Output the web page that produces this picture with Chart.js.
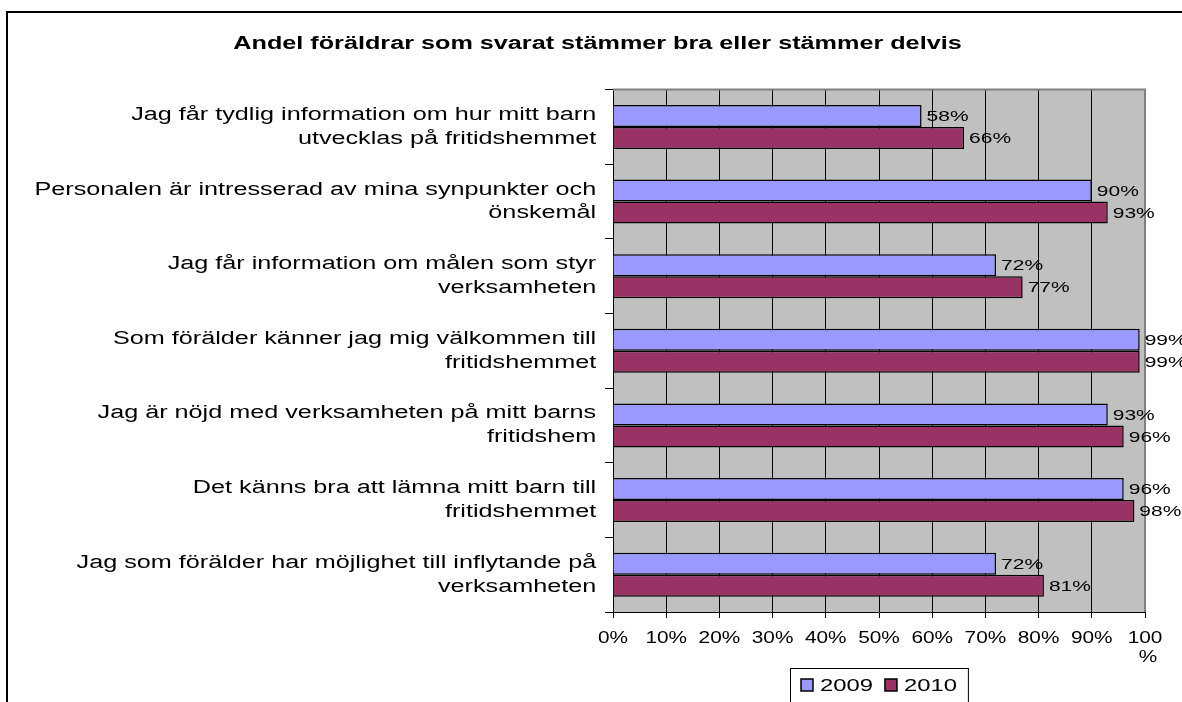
<!DOCTYPE html>
<html>
<head>
<meta charset="utf-8">
<script src="https://cdn.jsdelivr.net/npm/chart.js@4.4.0/dist/chart.umd.min.js"></script>
<style>
 html, body { margin: 0; padding: 0; background: #fff; }
 #wrap { width: 1182px; height: 702px; position: relative; }
</style>
</head>
<body>
<div id="wrap"><canvas id="myChart" width="1182" height="702"></canvas></div>
<script>
// categories (two lines each, like the original)
var categories = [
 ['Jag får tydlig information om hur mitt barn', 'utvecklas på fritidshemmet'],
 ['Personalen är intresserad av mina synpunkter och', 'önskemål'],
 ['Jag får information om målen som styr', 'verksamheten'],
 ['Som förälder känner jag mig välkommen till', 'fritidshemmet'],
 ['Jag är nöjd med verksamheten på mitt barns', 'fritidshem'],
 ['Det känns bra att lämna mitt barn till', 'fritidshemmet'],
 ['Jag som förälder har möjlighet till inflytande på', 'verksamheten']
];
var values2009 = [58, 90, 72, 99, 93, 96, 72];
var values2010 = [66, 93, 77, 99, 96, 98, 81];
var seriesNames = ['2009', '2010'];
var xTicks = [0, 10, 20, 30, 40, 50, 60, 70, 80, 90, 100];

var FONT = 'Arial, "Liberation Sans", sans-serif';
var WIDE = 1.4; // the original picture has horizontally stretched text

// run a draw method with the text stretched sideways around an anchor x
function stretch(obj, method, anchor) {
 if (obj.hasOwnProperty('_wide_' + method)) return;
 var orig = obj[method];
 obj[method] = function () {
   var c = this.ctx, ax = anchor(this);
   c.save();
   c.translate(ax, 0);
   c.scale(WIDE, 1);
   c.translate(-ax, 0);
   var r = orig.apply(this, arguments);
   c.restore();
   return r;
 };
 obj['_wide_' + method] = true;
}

// same, but every label stretched around its own position (x axis)
function stretchEach(obj, method, k) {
 if (obj.hasOwnProperty('_each_' + method)) return;
 var orig = obj[method];
 obj[method] = function () {
   var c = this.ctx, fill = c.fillText;
   c.fillText = function (t, x, y) {
     c.save();
     c.translate(x, y);
     c.scale(k, 1);
     fill.call(c, t, 0, 0);
     c.restore();
   };
   var r = orig.apply(this, arguments);
   c.fillText = fill;
   return r;
 };
 obj['_each_' + method] = true;
}

function wideText(c, str, x, y) {
 c.save();
 c.translate(x, y);
 c.scale(WIDE, 1);
 c.fillText(str, 0, 0);
 c.restore();
}

// gray plot area, chart border, value labels and legend box
var frame = {
 id: 'frame',
 beforeDraw: function (chart) {
   var c = chart.ctx, a = chart.chartArea;
   stretch(chart.scales.y, 'drawLabels', function (s) { return s.right; });
   stretch(chart.titleBlock, 'draw', function (t) { return (t.left + t.right) / 2; });
   stretchEach(chart.scales.x, 'drawLabels', 1.3);
   c.save();
   c.fillStyle = '#c0c0c0';
   c.fillRect(a.left, a.top, a.right - a.left, a.bottom - a.top);
   c.strokeStyle = '#000';
   c.lineWidth = 2;
   c.beginPath();
   c.moveTo(7, chart.height);
   c.lineTo(7, 12);
   c.lineTo(chart.width, 12);
   c.stroke();
   c.restore();
 },
 afterDatasetsDraw: function (chart) {
   var c = chart.ctx, a = chart.chartArea;
   c.save();
   c.strokeStyle = '#808080';
   c.lineWidth = 2;
   c.beginPath();
   c.moveTo(a.left, a.top);
   c.lineTo(a.right, a.top);
   c.lineTo(a.right, a.bottom);
   c.stroke();
   // value labels
   c.fillStyle = '#000';
   c.font = '15px ' + FONT;
   c.textBaseline = 'middle';
   c.textAlign = 'left';
   chart.data.datasets.forEach(function (ds, i) {
     chart.getDatasetMeta(i).data.forEach(function (bar, j) {
       wideText(c, ds.data[j] + '%', bar.x + 5, bar.y + 1);
     });
   });
   // legend box
   var items = chart.data.datasets;
   c.font = '17px ' + FONT;
   var w = 22 - 12;
   items.forEach(function (ds) { w += 12 + 7 + c.measureText(ds.label).width * WIDE + 12; });
   var lx = Math.round((a.left + a.right) / 2 - w / 2), ly = a.bottom + 56;
   c.strokeStyle = '#000';
   c.lineWidth = 1;
   c.fillStyle = '#fff';
   c.fillRect(lx, ly, w, 40);
   c.strokeRect(lx + 0.5, ly + 0.5, w, 40);
   var x = lx + 11;
   items.forEach(function (ds) {
     c.fillStyle = ds.backgroundColor;
     c.fillRect(x, ly + 11, 12, 12);
     c.lineWidth = 1.5;
     c.strokeRect(x, ly + 11, 12, 12);
     c.fillStyle = '#000';
     wideText(c, ds.label, x + 19, ly + 18);
     x += 12 + 7 + c.measureText(ds.label).width * WIDE + 12;
   });
   c.restore();
 }
};

var ctx = document.getElementById('myChart').getContext('2d');
var chart = new Chart(ctx, {
 type: 'bar',
 data: {
   labels: categories,
   datasets: [{
     label: seriesNames[0],
     backgroundColor: '#9999ff',
     borderColor: '#000',
     borderWidth: 1.5,
     data: values2009
   }, {
     label: seriesNames[1],
     backgroundColor: '#993366',
     borderColor: '#000',
     borderWidth: 1.5,
     data: values2010
   }]
 },
 options: {
   indexAxis: 'y',
   responsive: false,
   animation: false,
   categoryPercentage: 0.59,
   barPercentage: 1,
   layout: { padding: { left: 50, top: 12, right: 37, bottom: 0 } },
   plugins: {
     legend: { display: false },
     tooltip: { enabled: false },
     title: {
       display: true,
       text: 'Andel föräldrar som svarat stämmer bra eller stämmer delvis',
       color: '#000',
       font: { family: FONT, size: 18, weight: 'bold' },
       padding: { top: 21, bottom: 35 }
     }
   },
   scales: {
     x: {
       min: 0,
       max: 100,
       afterBuildTicks: function (s) { s.ticks = xTicks.map(function (v) { return { value: v }; }); },
       afterFit: function (s) { s.height = 90; },
       ticks: {
         color: '#000',
         font: { family: FONT, size: 16 },
         padding: 11,
         maxRotation: 0,
         autoSkip: false,
         callback: function (v) { return v === 100 ? ['100', ' %'] : v + '%'; }
       },
       grid: { color: '#000', lineWidth: 1, tickLength: 6 },
       border: { color: '#000', width: 1 }
     },
     y: {
       afterFit: function (s) { s.width = 563; },
       ticks: {
         color: '#000',
         font: { family: FONT, size: 18, lineHeight: 1.33 },
         padding: 4,
         autoSkip: false
       },
       grid: { drawOnChartArea: false, color: '#000', tickLength: 8 },
       border: { color: '#000', width: 1 }
     }
   }
 },
 plugins: [frame]
});
</script>
</body>
</html>
